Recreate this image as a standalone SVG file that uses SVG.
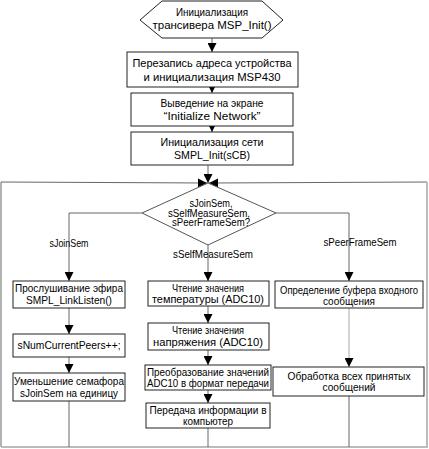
<svg xmlns="http://www.w3.org/2000/svg" width="429" height="449" viewBox="0 0 429 449">
<defs>
<marker id="ah" viewBox="0 0 10 10" refX="10" refY="5" markerWidth="9" markerHeight="9" markerUnits="userSpaceOnUse" orient="auto">
<path d="M0,0 L10,5 L0,10 z" fill="#000"/>
</marker>
</defs>
<style>
.box{fill:#fff;stroke:#222;stroke-width:1}
.t{font-family:"Liberation Sans",Arial,sans-serif;font-size:11.5px;fill:#000;text-anchor:middle}
.s{font-size:10.5px}
.d{font-size:10px}
.c{fill:none;stroke:#666;stroke-width:1}
.ca{fill:none;stroke:#666;stroke-width:1;marker-end:url(#ah)}
</style>
<rect width="429" height="449" fill="#fff"/>
<g id="connectors">
<line class="ca" x1="212" y1="38" x2="212" y2="52"/>
<line class="ca" x1="212" y1="87" x2="212" y2="93"/>
<line class="ca" x1="212" y1="126" x2="212" y2="132"/>
<line class="ca" x1="208" y1="165" x2="208" y2="183"/>
<line class="ca" x1="1" y1="182" x2="207" y2="183"/>
<line class="ca" x1="427" y1="182" x2="209" y2="183"/>
<polyline class="c" points="1,182 1,447"/>
<polyline class="c" points="1,447 427,447 427,182" style="stroke:#bbb;stroke-width:2"/>
<polyline class="ca" points="142,213 69,213 69,281"/>
<polyline class="ca" points="208,245 208,281"/>
<polyline class="ca" points="276,213 349,213 349,281"/>
<line class="ca" x1="69" y1="308" x2="69" y2="334"/>
<line class="ca" x1="69" y1="357" x2="69" y2="373"/>
<line class="c" x1="69" y1="401" x2="69" y2="447"/>
<line class="ca" x1="208" y1="306" x2="208" y2="323"/>
<line class="ca" x1="208" y1="350" x2="208" y2="365"/>
<line class="ca" x1="208" y1="390" x2="208" y2="403"/>
<line class="c" x1="208" y1="428" x2="208" y2="447"/>
<line class="ca" x1="349" y1="308" x2="349" y2="367" style="stroke:#aaa"/>
<line class="c" x1="349" y1="396" x2="349" y2="447"/>
<text class="t s" x="69" y="247" textLength="39" lengthAdjust="spacingAndGlyphs">sJoinSem</text>
<text class="t s" x="213" y="258" textLength="80" lengthAdjust="spacingAndGlyphs">sSelfMeasureSem</text>
<text class="t s" x="360" y="246" textLength="73" lengthAdjust="spacingAndGlyphs">sPeerFrameSem</text>
</g>
<g id="hex">
<polygon class="box" points="140,20 162,1 262,1 283,20 262,38 162,38"/>
<text class="t" x="212" y="16" textLength="72" lengthAdjust="spacingAndGlyphs">Инициализация</text>
<text class="t" x="212" y="29" textLength="119" lengthAdjust="spacingAndGlyphs">трансивера  MSP_Init()</text>
</g>
<g id="b1">
<rect class="box" x="127" y="52" width="171" height="35"/>
<text class="t" x="212" y="67" textLength="159" lengthAdjust="spacingAndGlyphs">Перезапись адреса устройства</text>
<text class="t" x="212" y="81" textLength="137" lengthAdjust="spacingAndGlyphs">и инициализация MSP430</text>
</g>
<g id="b2">
<rect class="box" x="131" y="93" width="162" height="33"/>
<text class="t" x="212" y="107" textLength="103" lengthAdjust="spacingAndGlyphs">Выведение на экране</text>
<text class="t" x="212" y="120" textLength="97" lengthAdjust="spacingAndGlyphs">“Initialize Network”</text>
</g>
<g id="b3">
<rect class="box" x="131" y="132" width="162" height="33"/>
<text class="t" x="212" y="146" textLength="103" lengthAdjust="spacingAndGlyphs">Инициализация сети</text>
<text class="t" x="212" y="159" textLength="76" lengthAdjust="spacingAndGlyphs">SMPL_Init(sCB)</text>
</g>
<g id="dec">
<polygon class="box" points="208,183 276,213 208,245 142,213" style="stroke:#555"/>
<text class="t d" x="211" y="207" textLength="43" lengthAdjust="spacingAndGlyphs">sJoinSem,</text>
<text class="t d" x="209" y="216.5" textLength="82" lengthAdjust="spacingAndGlyphs">sSelfMeasureSem,</text>
<text class="t d" x="211" y="226" textLength="78" lengthAdjust="spacingAndGlyphs">sPeerFrameSem?</text>
</g>
<g id="l1">
<rect class="box" x="13" y="281" width="112" height="27"/>
<text class="t" x="69" y="292" textLength="108" lengthAdjust="spacingAndGlyphs">Прослушивание эфира</text>
<text class="t" x="69" y="304" textLength="86" lengthAdjust="spacingAndGlyphs">SMPL_LinkListen()</text>
</g>
<g id="l2">
<rect class="box" x="13" y="334" width="112" height="23"/>
<text class="t" x="69" y="349" textLength="103" lengthAdjust="spacingAndGlyphs">sNumCurrentPeers++;</text>
</g>
<g id="l3">
<rect class="box" x="13" y="373" width="112" height="28"/>
<text class="t" x="69" y="385" textLength="110" lengthAdjust="spacingAndGlyphs">Уменьшение семафора</text>
<text class="t" x="69" y="397" textLength="98" lengthAdjust="spacingAndGlyphs">sJoinSem на единицу</text>
</g>
<g id="m1">
<rect class="box" x="148" y="281" width="121" height="25"/>
<text class="t" x="208" y="292" textLength="72" lengthAdjust="spacingAndGlyphs">Чтение значения</text>
<text class="t" x="208" y="303" textLength="112" lengthAdjust="spacingAndGlyphs">температуры (ADC10)</text>
</g>
<g id="m2">
<rect class="box" x="148" y="323" width="121" height="27"/>
<text class="t" x="208" y="334" textLength="72" lengthAdjust="spacingAndGlyphs">Чтение значения</text>
<text class="t" x="208" y="346" textLength="110" lengthAdjust="spacingAndGlyphs">напряжения (ADC10)</text>
</g>
<g id="m3">
<rect class="box" x="145" y="365" width="126" height="25"/>
<text class="t" x="208" y="376" textLength="122" lengthAdjust="spacingAndGlyphs">Преобразование значений</text>
<text class="t" x="208" y="387" textLength="122" lengthAdjust="spacingAndGlyphs">ADC10 в формат передачи</text>
</g>
<g id="m4">
<rect class="box" x="146" y="403" width="124" height="25"/>
<text class="t" x="208" y="414" textLength="117" lengthAdjust="spacingAndGlyphs">Передача информации в</text>
<text class="t" x="208" y="425" textLength="50" lengthAdjust="spacingAndGlyphs">компьютер</text>
</g>
<g id="r1">
<rect class="box" x="275" y="281" width="148" height="27"/>
<text class="t" x="349" y="293.5" textLength="138" lengthAdjust="spacingAndGlyphs">Определение буфера входного</text>
<text class="t" x="349" y="304.5" textLength="52" lengthAdjust="spacingAndGlyphs">сообщения</text>
</g>
<g id="r2">
<rect class="box" x="273" y="367" width="151" height="29"/>
<text class="t" x="349" y="380" textLength="123" lengthAdjust="spacingAndGlyphs">Обработка всех принятых</text>
<text class="t" x="349" y="391" textLength="53" lengthAdjust="spacingAndGlyphs">сообщений</text>
</g>
</svg>
